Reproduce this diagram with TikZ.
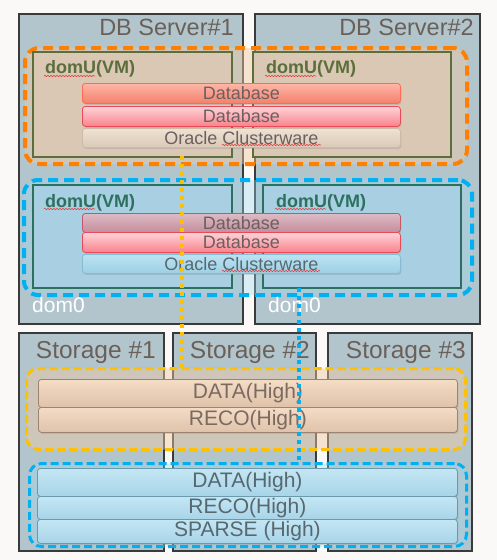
\documentclass[tikz,border=0pt]{standalone}
\usepackage{fontspec}
\setmainfont{Liberation Sans}
\usetikzlibrary{shadows,decorations.pathmorphing}
\definecolor{bgc}{HTML}{FAF9F7}
\definecolor{srvfill}{HTML}{B2C5CC}
\definecolor{srvline}{HTML}{3A3A3A}
\definecolor{titletxt}{HTML}{6B6058}
\definecolor{orangeC}{HTML}{FF7F00}
\definecolor{blueC}{HTML}{00B0F0}
\definecolor{yellowC}{HTML}{FFC000}
\definecolor{peach}{HTML}{F2C9A0}
\definecolor{skyfill}{HTML}{9ED8F0}
\definecolor{tanfill}{HTML}{DBC8B4}
\definecolor{oliveline}{HTML}{5B6E3C}
\definecolor{lbluefill}{HTML}{A8D0E2}
\definecolor{tealline}{HTML}{2E7060}
\definecolor{bartxt}{HTML}{6A6060}
\definecolor{bartxtb}{HTML}{566870}
\definecolor{sttxt}{HTML}{7A6A60}
\definecolor{dbAline}{HTML}{FF6A55}
\definecolor{dbAtop}{HTML}{FFB6A6}
\definecolor{dbAbot}{HTML}{F3806C}
\definecolor{dbBline}{HTML}{E84A58}
\definecolor{dbBtop}{HTML}{FFD2D8}
\definecolor{dbBbot}{HTML}{F8828C}
\definecolor{dbCline}{HTML}{C25868}
\definecolor{dbCtop}{HTML}{DCBCC4}
\definecolor{dbCbot}{HTML}{C48C9C}
\definecolor{ocAline}{HTML}{CDBBA8}
\definecolor{ocAtop}{HTML}{EFE2D2}
\definecolor{ocAbot}{HTML}{D9C9B8}
\definecolor{ocBline}{HTML}{86BCD2}
\definecolor{ocBtop}{HTML}{BCE3F3}
\definecolor{ocBbot}{HTML}{9CCFE3}
\definecolor{stAline}{HTML}{9C8470}
\definecolor{stAtop}{HTML}{F4DCC6}
\definecolor{stAbot}{HTML}{DFC2AA}
\definecolor{stBline}{HTML}{6A9AAC}
\definecolor{stBtop}{HTML}{C4E6F4}
\definecolor{stBbot}{HTML}{A8D4E8}
\definecolor{spellred}{HTML}{E04040}
\newcommand\fsz[1]{\fontsize{#1}{#1}\selectfont}
\tikzset{
  srv/.style={draw=srvline, line width=2pt, fill=srvfill, anchor=north west, inner sep=0pt},
  regbase/.style={anchor=north west, inner sep=0pt, fill opacity=0.45},
  oreg/.style={regbase, draw=orangeC, line width=4pt, dash pattern=on 10pt off 6pt, rounded corners=14pt, fill=peach},
  breg/.style={regbase, draw=blueC, line width=4pt, dash pattern=on 10pt off 6pt, rounded corners=14pt, fill=skyfill, fill opacity=0.35},
  yreg/.style={regbase, draw=yellowC, line width=3pt, dash pattern=on 8pt off 4pt, rounded corners=12pt, fill=peach},
  bsreg/.style={regbase, draw=blueC, line width=3pt, dash pattern=on 8pt off 4pt, rounded corners=12pt, fill=skyfill, fill opacity=0.35},
  domuA/.style={draw=oliveline, line width=1.5pt, fill=tanfill, anchor=north west, inner sep=0pt},
  domuB/.style={draw=tealline, line width=1.5pt, fill=lbluefill, anchor=north west, inner sep=0pt},
  barbase/.style={anchor=north west, inner sep=0pt, rounded corners=3pt, line width=0.8pt,
     text=bartxt, font=\fsz{18}, drop shadow={shadow xshift=1pt, shadow yshift=-1.5pt, opacity=0.25}},
  dbA/.style={barbase, draw=dbAline, top color=dbAtop, bottom color=dbAbot},
  dbB/.style={barbase, draw=dbBline, top color=dbBtop, bottom color=dbBbot},
  dbC/.style={barbase, draw=dbCline, top color=dbCtop, bottom color=dbCbot},
  ocA/.style={barbase, draw=ocAline, top color=ocAtop, bottom color=ocAbot},
  ocB/.style={barbase, draw=ocBline, top color=ocBtop, bottom color=ocBbot, text=bartxtb},
  stA/.style={barbase, draw=stAline, top color=stAtop, bottom color=stAbot, font=\fsz{21}, text=sttxt},
  stB/.style={barbase, draw=stBline, top color=stBtop, bottom color=stBbot, font=\fsz{21}, text=bartxtb},
  ttl/.style={anchor=base east, inner sep=0pt, text=titletxt, font=\fsz{23.5}},
  sttl/.style={anchor=base east, inner sep=0pt, text=titletxt, font=\fsz{24.5}},
  dulbl/.style={anchor=base west, inner sep=0pt, font=\bfseries\fsz{18}},
  d0lbl/.style={anchor=base west, inner sep=0pt, text=white, font=\fsz{21}},
  ydot/.style={draw=yellowC, line width=4.5pt, dash pattern=on 4pt off 4pt},
  bdot/.style={draw=blueC, line width=3.5pt, dash pattern=on 4pt off 4pt},
  spell/.style={draw=spellred, line width=0.6pt, decorate, decoration={snake, segment length=3pt, amplitude=0.7pt}},
}
\begin{document}
\begin{tikzpicture}[x=1pt,y=-1pt]
\fill[bgc] (0,0) rectangle (497,560);
\useasboundingbox (0,0) rectangle (497,560);
% DB servers
\node[srv, minimum width=224, minimum height=310] (s1) at (18,13) {};
\node[srv, minimum width=225, minimum height=310] (s2) at (254,13) {};
\node[ttl] (s1t) at (234,35) {DB Server\#1};
\node[ttl] (s2t) at (474,35) {DB Server\#2};
% regions
\node[oreg, minimum width=442, minimum height=116] (oreg) at (23,46) {};
\node[breg, minimum width=448, minimum height=115] (breg) at (22,178) {};
% domU boxes
\node[domuA, minimum width=199, minimum height=105] (du1) at (32,51) {};
\node[domuA, minimum width=198, minimum height=105] (du2) at (252,51) {};
\node[domuB, minimum width=199, minimum height=103] (du3) at (32,184) {};
\node[domuB, minimum width=198, minimum height=103] (du4) at (262,184) {};
\node[dulbl, text=oliveline] (l1) at (45,73) {domU(VM)};
\node[dulbl, text=oliveline] (l2) at (266,73) {domU(VM)};
\node[dulbl, text=tealline] (l3) at (45,207) {domU(VM)};
\node[dulbl, text=tealline] (l4) at (276,207) {domU(VM)};
\coordinate (u1a) at (44,76); \coordinate (u1b) at (95,76);
\coordinate (u2a) at (265,76); \coordinate (u2b) at (316,76);
\coordinate (u3a) at (44,209); \coordinate (u3b) at (95,209);
\coordinate (u4a) at (275,209); \coordinate (u4b) at (326,209);
\draw[spell] (u1a) -- (u1b);
\draw[spell] (u2a) -- (u2b);
\draw[spell] (u3a) -- (u3b);
\draw[spell] (u4a) -- (u4b);
% bars upper
\node[dbA, minimum width=318, minimum height=20] (b1) at (82,83) {Database};
\node[dbB, minimum width=318, minimum height=20] (b2) at (82,106) {Database};
\node[ocA, minimum width=318, minimum height=19] (b3) at (82,128) {Oracle Clusterware};
% bars lower
\node[dbC, minimum width=318, minimum height=19] (b4) at (82,213) {Database};
\node[dbB, minimum width=318, minimum height=20] (b5) at (82,232) {Database};
\node[ocB, minimum width=318, minimum height=19] (b6) at (82,254) {Oracle Clusterware};
\coordinate (c1a) at (222,145); \coordinate (c1b) at (321,145);
\coordinate (c2a) at (222,271); \coordinate (c2b) at (320,271);
\draw[spell] (c1a) -- (c1b);
\draw[spell] (c2a) -- (c2b);
% dom0
\node[d0lbl] (d01) at (32,312) {dom0};
\node[d0lbl] (d02) at (268,312) {dom0};
% storage
\node[srv, minimum width=145, minimum height=218] (st1) at (18,332) {};
\node[srv, minimum width=143, minimum height=218] (st2) at (172,332) {};
\node[srv, minimum width=144, minimum height=218] (st3) at (327,332) {};
\node[sttl] (st1t) at (156,358) {Storage \#1};
\node[sttl] (st2t) at (310,358) {Storage \#2};
\node[sttl] (st3t) at (466,358) {Storage \#3};
\node[yreg, minimum width=439, minimum height=81] (yreg) at (25,367) {};
\node[bsreg, minimum width=437, minimum height=83] (bsreg) at (28,462) {};
\node[stA, minimum width=419, minimum height=28] (sa1) at (38,379) {DATA(High)};
\node[stA, minimum width=419, minimum height=25] (sa2) at (38,407) {RECO(High)};
\node[stB, minimum width=420, minimum height=28] (sb1) at (37,468) {DATA(High)};
\node[stB, minimum width=420, minimum height=23] (sb2) at (37,496) {RECO(High)};
\node[stB, minimum width=420, minimum height=24] (sb3) at (37,519) {SPARSE (High)};
% dotted links
\coordinate (ya) at (182,156);
\coordinate (yb) at (182,367);
\coordinate (ba) at (299,288);
\coordinate (bb) at (299,462);
\draw[ydot] (ya) -- (yb);
\draw[bdot] (ba) -- (bb);
\end{tikzpicture}
\end{document}
